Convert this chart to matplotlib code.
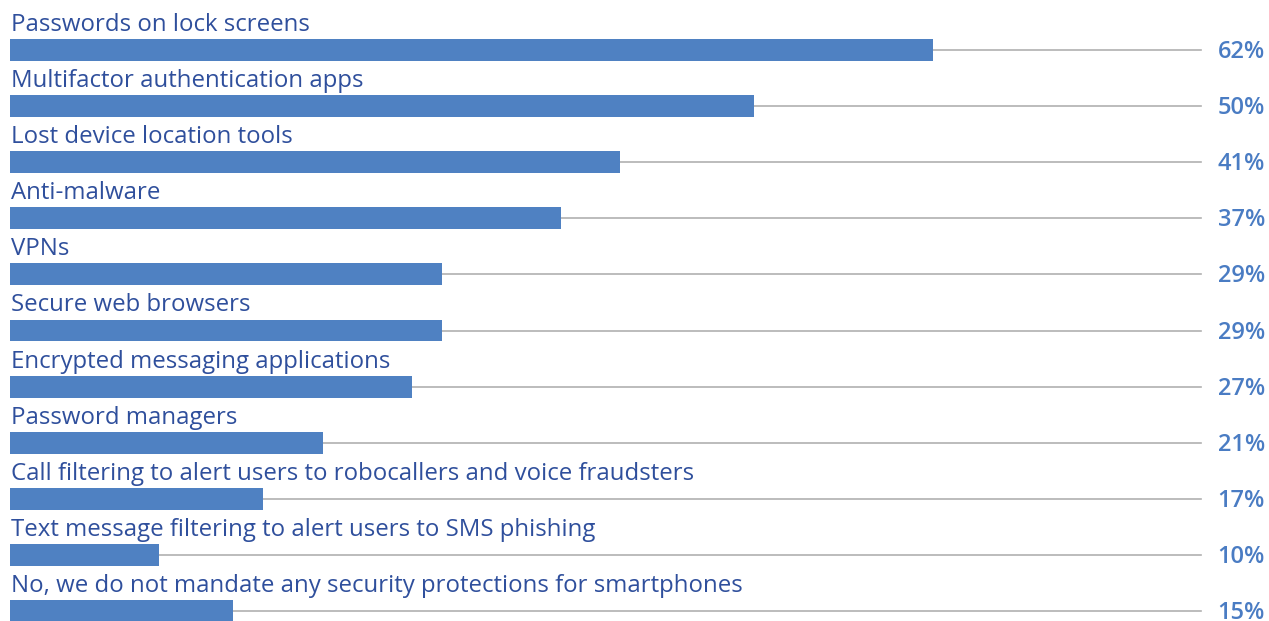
import matplotlib.pyplot as plt

# Survey answers and percentages
labels = [
    "Passwords on lock screens",
    "Multifactor authentication apps",
    "Lost device location tools",
    "Anti-malware",
    "VPNs",
    "Secure web browsers",
    "Encrypted messaging applications",
    "Password managers",
    "Call filtering to alert users to robocallers and voice fraudsters",
    "Text message filtering to alert users to SMS phishing",
    "No, we do not mandate any security protections for smartphones",
]
values = [62, 50, 41, 37, 29, 29, 27, 21, 17, 10, 15]

bar_color = "#4f81c2"
text_color = "#2f4f9c"
value_color = "#4a7cc3"
line_end = 80

plt.rcParams["font.family"] = ["Open Sans", "DejaVu Sans"]

fig = plt.figure(figsize=(12.69, 6.21), dpi=100)
ax = fig.add_axes([0, 0, 1, 1])

# 14.89 px per percent, bars start 10 px from the left edge
ax.set_xlim(-10 / 14.89, 1259 / 14.89)
ax.set_ylim(571 / 56.1, -50 / 56.1)
ax.axis("off")

for i, (lab, v) in enumerate(zip(labels, values)):
    ax.plot([v, line_end], [i, i], color="#b0b0b0", lw=1.2, zorder=1)
    ax.barh(i, v, height=0.392, color=bar_color, left=0, zorder=2)
    ax.text(0.05, i - 0.34, lab, color=text_color, fontsize=17.3,
            va="baseline", ha="left")
    ax.text(1265 / 14.89 - 0.67, i + 0.143, f"{v}%", color=value_color,
            fontsize=17, fontweight="semibold", va="baseline", ha="right")

fig.savefig("out.png", dpi=100)
